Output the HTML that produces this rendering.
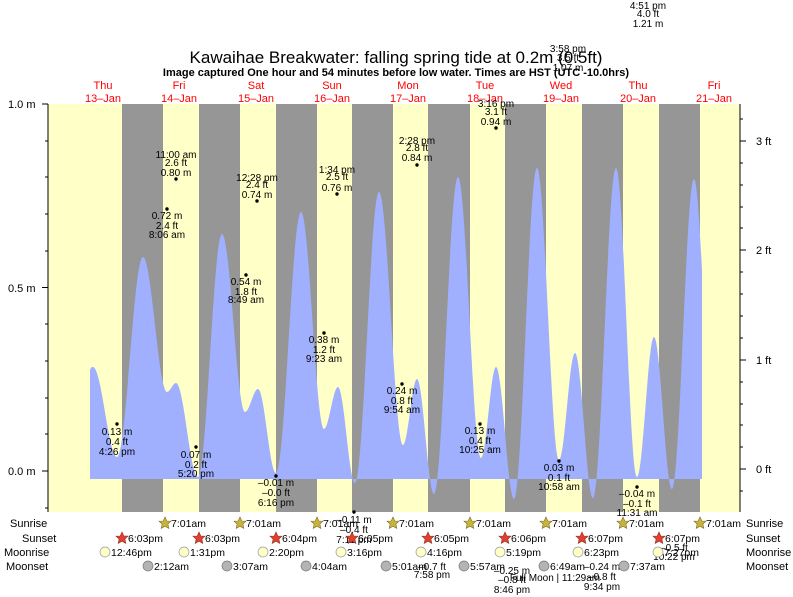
<!DOCTYPE html>
<html><head><meta charset="utf-8"><style>
body{margin:0;background:#fff;}
svg{display:block;font-family:"Liberation Sans",sans-serif;}
.l{font-size:10px;text-anchor:middle;fill:#000;}
.d{font-size:11px;fill:#f00;text-anchor:middle;}
.r{font-size:11px;fill:#000;}
</style></head><body>
<svg width="793" height="597" viewBox="0 0 793 597" xmlns="http://www.w3.org/2000/svg">
<rect width="793" height="597" fill="#fff"/>
<rect x="48" y="104" width="692" height="408" fill="#ffffc8"/>
<g fill="#969696">
<rect x="122" y="104" width="41" height="408"/>
<rect x="199" y="104" width="41" height="408"/>
<rect x="276" y="104" width="41" height="408"/>
<rect x="352" y="104" width="41" height="408"/>
<rect x="428" y="104" width="42" height="408"/>
<rect x="505" y="104" width="41" height="408"/>
<rect x="582" y="104" width="41" height="408"/>
<rect x="659" y="104" width="41" height="408"/>
</g>
<path fill="#a0b0ff" d="M90,479 L90,370 C91,367 92,367 93,367
C101.6,367 108.4,457 117,457
C126.4,457 133.6,257 143,257
C151.6,257 158.4,392 167,392
C170.2,392 172.8,383 176,383
C183.9,383 190.1,477 198,477
C206.6,477 213.4,234 222,234
C230.3,234 236.7,412 245,412
C249.7,412 253.3,389 258,389
C264.5,389 269.5,473 276,473
C285,473 292,212 301,212
C309.3,212 315.7,429 324,429
C329,429 333,387 338,387
C344.1,387 348.9,483 355,483
C363.6,483 370.4,192 379,192
C387.6,192 394.4,445 403,445
C408,445 412,379 417,379
C423.1,379 427.9,494 434,494
C442.6,494 449.4,177 458,177
C466.3,177 472.7,458 481,458
C486.4,458 490.6,367 496,367
C502.5,367 507.5,499 514,499
C522.3,499 528.7,168 537,168
C544.9,168 551.1,460 559,460
C564.8,460 569.2,353 575,353
C581.5,353 586.5,498 593,498
C601.3,498 607.7,168 616,168
C623.6,168 629.4,477 637,477
C643.1,477 647.9,337 654,337
C660.5,337 665.5,489 672,489
C679.9,489 686.1,179 694,179
C697,179 700,230 702,270 L702,479 Z"/>
<g stroke="#000" stroke-width="1">
<line x1="48" y1="104" x2="48" y2="512"/>
<line x1="740" y1="104" x2="740" y2="512"/>
<line x1="42" y1="104" x2="48" y2="104"/><line x1="42" y1="287.5" x2="48" y2="287.5"/><line x1="42" y1="471" x2="48" y2="471"/>
<line x1="45" y1="141" x2="48" y2="141"/><line x1="45" y1="177" x2="48" y2="177"/><line x1="45" y1="214" x2="48" y2="214"/><line x1="45" y1="251" x2="48" y2="251"/><line x1="45" y1="324" x2="48" y2="324"/><line x1="45" y1="361" x2="48" y2="361"/><line x1="45" y1="398" x2="48" y2="398"/><line x1="45" y1="434" x2="48" y2="434"/><line x1="45" y1="508" x2="48" y2="508"/>
<line x1="740" y1="141" x2="746" y2="141"/><line x1="740" y1="250" x2="746" y2="250"/><line x1="740" y1="360" x2="746" y2="360"/><line x1="740" y1="469" x2="746" y2="469"/>
<line x1="740" y1="119" x2="743" y2="119"/><line x1="740" y1="163" x2="743" y2="163"/><line x1="740" y1="185" x2="743" y2="185"/><line x1="740" y1="207" x2="743" y2="207"/><line x1="740" y1="228" x2="743" y2="228"/><line x1="740" y1="272" x2="743" y2="272"/><line x1="740" y1="294" x2="743" y2="294"/><line x1="740" y1="316" x2="743" y2="316"/><line x1="740" y1="338" x2="743" y2="338"/><line x1="740" y1="382" x2="743" y2="382"/><line x1="740" y1="404" x2="743" y2="404"/><line x1="740" y1="425" x2="743" y2="425"/><line x1="740" y1="447" x2="743" y2="447"/><line x1="740" y1="491" x2="743" y2="491"/>
</g>
<g class="r">
<text x="8" y="108">1.0 m</text><text x="8" y="292">0.5 m</text><text x="8" y="475">0.0 m</text>
<text x="756" y="145">3 ft</text><text x="756" y="254">2 ft</text><text x="756" y="364">1 ft</text><text x="756" y="473">0 ft</text>
</g>
<text x="396" y="63" font-size="17" text-anchor="middle">Kawaihae Breakwater: falling  spring tide at 0.2m (0.5ft)</text>
<text x="396" y="76" font-size="11" font-weight="bold" text-anchor="middle">Image captured One hour and 54 minutes before low water. Times are HST (UTC -10.0hrs)</text>
<g class="d">
<text x="103" y="89">Thu</text><text x="103" y="102">13–Jan</text>
<text x="179" y="89">Fri</text><text x="179" y="102">14–Jan</text>
<text x="256" y="89">Sat</text><text x="256" y="102">15–Jan</text>
<text x="332" y="89">Sun</text><text x="332" y="102">16–Jan</text>
<text x="408" y="89">Mon</text><text x="408" y="102">17–Jan</text>
<text x="485" y="89">Tue</text><text x="485" y="102">18–Jan</text>
<text x="561" y="89">Wed</text><text x="561" y="102">19–Jan</text>
<text x="638" y="89">Thu</text><text x="638" y="102">20–Jan</text>
<text x="714" y="89">Fri</text><text x="714" y="102">21–Jan</text>
</g>
<g fill="#000">
<circle cx="117" cy="424" r="1.7"/><circle cx="176" cy="179" r="1.7"/><circle cx="167" cy="209" r="1.7"/><circle cx="196" cy="447" r="1.7"/><circle cx="257" cy="201" r="1.7"/><circle cx="246" cy="275" r="1.7"/><circle cx="276" cy="476" r="1.7"/><circle cx="337" cy="194" r="1.7"/><circle cx="324" cy="333" r="1.7"/><circle cx="354" cy="512" r="1.7"/><circle cx="402" cy="384" r="1.7"/><circle cx="417" cy="165" r="1.7"/><circle cx="496" cy="128" r="1.7"/><circle cx="480" cy="424" r="1.7"/><circle cx="559" cy="461" r="1.7"/><circle cx="637" cy="487" r="1.7"/>
</g>
<g class="l">
<text x="117" y="435">0.13 m</text><text x="117" y="445">0.4 ft</text><text x="117" y="455">4:26 pm</text>
<text x="176" y="158">11:00 am</text><text x="176" y="166">2.6 ft</text><text x="176" y="176">0.80 m</text>
<text x="167" y="219">0.72 m</text><text x="167" y="229">2.4 ft</text><text x="167" y="238">8:06 am</text>
<text x="196" y="458">0.07 m</text><text x="196" y="468">0.2 ft</text><text x="196" y="477">5:20 pm</text>
<text x="257" y="181">12:28 pm</text><text x="257" y="188">2.4 ft</text><text x="257" y="198">0.74 m</text>
<text x="246" y="285">0.54 m</text><text x="246" y="295">1.8 ft</text><text x="246" y="303">8:49 am</text>
<text x="276" y="486">–0.01 m</text><text x="276" y="496">–0.0 ft</text><text x="276" y="506">6:16 pm</text>
<text x="337" y="173">1:34 pm</text><text x="337" y="180">2.5 ft</text><text x="337" y="191">0.76 m</text>
<text x="324" y="343">0.38 m</text><text x="324" y="353">1.2 ft</text><text x="324" y="362">9:23 am</text>
<text x="354" y="523">–0.11 m</text><text x="354" y="533">–0.4 ft</text><text x="354" y="543">7:11 pm</text>
<text x="402" y="394">0.24 m</text><text x="402" y="404">0.8 ft</text><text x="402" y="413">9:54 am</text>
<text x="417" y="144">2:28 pm</text><text x="417" y="151">2.8 ft</text><text x="417" y="161">0.84 m</text>
<text x="496" y="107">3:16 pm</text><text x="496" y="115">3.1 ft</text><text x="496" y="125">0.94 m</text>
<text x="480" y="434">0.13 m</text><text x="480" y="444">0.4 ft</text><text x="480" y="453">10:25 am</text>
<text x="559" y="471">0.03 m</text><text x="559" y="481">0.1 ft</text><text x="559" y="490">10:58 am</text>
<text x="637" y="497">–0.04 m</text><text x="637" y="507">–0.1 ft</text><text x="637" y="516">11:31 am</text>
<text x="648" y="9">4:51 pm</text><text x="648" y="17">4.0 ft</text><text x="648" y="27">1.21 m</text>
<text x="568" y="52">3:58 pm</text><text x="568" y="61">3.5 ft</text><text x="568" y="71">1.07 m</text>
<text x="432" y="570">–0.7 ft</text><text x="432" y="578">7:58 pm</text>
<text x="512" y="574">–0.25 m</text><text x="512" y="583">–0.8 ft</text><text x="512" y="593">8:46 pm</text>
<text x="555" y="581">Full Moon | 11:29am</text>
<text x="602" y="570">–0.24 m</text><text x="602" y="580">–0.8 ft</text><text x="602" y="590">9:34 pm</text>
<text x="674" y="551">–0.5 ft</text><text x="674" y="560">10:22 pm</text>
</g>
<g font-size="11" fill="#000">
<text x="10" y="527">Sunrise</text><text x="22" y="542">Sunset</text><text x="4" y="556">Moonrise</text><text x="6" y="570">Moonset</text>
<text x="746" y="527">Sunrise</text><text x="746" y="542">Sunset</text><text x="746" y="556">Moonrise</text><text x="746" y="570">Moonset</text>
</g>
<g font-size="10.5" fill="#000">
<g fill="#c8b43c" stroke="#7a6a20" stroke-width="0.6">
<polygon transform="translate(165,523)" points="0,-6 1.8,-2 6,-1.9 2.9,1 3.8,5.4 0,3.2 -3.8,5.4 -2.9,1 -6,-1.9 -1.8,-2"/>
<polygon transform="translate(240,523)" points="0,-6 1.8,-2 6,-1.9 2.9,1 3.8,5.4 0,3.2 -3.8,5.4 -2.9,1 -6,-1.9 -1.8,-2"/>
<polygon transform="translate(317,523)" points="0,-6 1.8,-2 6,-1.9 2.9,1 3.8,5.4 0,3.2 -3.8,5.4 -2.9,1 -6,-1.9 -1.8,-2"/>
<polygon transform="translate(393,523)" points="0,-6 1.8,-2 6,-1.9 2.9,1 3.8,5.4 0,3.2 -3.8,5.4 -2.9,1 -6,-1.9 -1.8,-2"/>
<polygon transform="translate(470,523)" points="0,-6 1.8,-2 6,-1.9 2.9,1 3.8,5.4 0,3.2 -3.8,5.4 -2.9,1 -6,-1.9 -1.8,-2"/>
<polygon transform="translate(546,523)" points="0,-6 1.8,-2 6,-1.9 2.9,1 3.8,5.4 0,3.2 -3.8,5.4 -2.9,1 -6,-1.9 -1.8,-2"/>
<polygon transform="translate(623,523)" points="0,-6 1.8,-2 6,-1.9 2.9,1 3.8,5.4 0,3.2 -3.8,5.4 -2.9,1 -6,-1.9 -1.8,-2"/>
<polygon transform="translate(700,523)" points="0,-6 1.8,-2 6,-1.9 2.9,1 3.8,5.4 0,3.2 -3.8,5.4 -2.9,1 -6,-1.9 -1.8,-2"/>
</g>
<text x="171" y="527">7:01am</text><text x="246" y="527">7:01am</text><text x="323" y="527">7:01am</text><text x="399" y="527">7:01am</text><text x="476" y="527">7:01am</text><text x="552" y="527">7:01am</text><text x="629" y="527">7:01am</text><text x="706" y="527">7:01am</text>
<g fill="#e04030" stroke="#903020" stroke-width="0.6">
<polygon transform="translate(122,538)" points="0,-6 1.8,-2 6,-1.9 2.9,1 3.8,5.4 0,3.2 -3.8,5.4 -2.9,1 -6,-1.9 -1.8,-2"/>
<polygon transform="translate(199,538)" points="0,-6 1.8,-2 6,-1.9 2.9,1 3.8,5.4 0,3.2 -3.8,5.4 -2.9,1 -6,-1.9 -1.8,-2"/>
<polygon transform="translate(276,538)" points="0,-6 1.8,-2 6,-1.9 2.9,1 3.8,5.4 0,3.2 -3.8,5.4 -2.9,1 -6,-1.9 -1.8,-2"/>
<polygon transform="translate(352,538)" points="0,-6 1.8,-2 6,-1.9 2.9,1 3.8,5.4 0,3.2 -3.8,5.4 -2.9,1 -6,-1.9 -1.8,-2"/>
<polygon transform="translate(428,538)" points="0,-6 1.8,-2 6,-1.9 2.9,1 3.8,5.4 0,3.2 -3.8,5.4 -2.9,1 -6,-1.9 -1.8,-2"/>
<polygon transform="translate(505,538)" points="0,-6 1.8,-2 6,-1.9 2.9,1 3.8,5.4 0,3.2 -3.8,5.4 -2.9,1 -6,-1.9 -1.8,-2"/>
<polygon transform="translate(582,538)" points="0,-6 1.8,-2 6,-1.9 2.9,1 3.8,5.4 0,3.2 -3.8,5.4 -2.9,1 -6,-1.9 -1.8,-2"/>
<polygon transform="translate(659,538)" points="0,-6 1.8,-2 6,-1.9 2.9,1 3.8,5.4 0,3.2 -3.8,5.4 -2.9,1 -6,-1.9 -1.8,-2"/>
</g>
<text x="128" y="542">6:03pm</text><text x="205" y="542">6:03pm</text><text x="282" y="542">6:04pm</text><text x="358" y="542">6:05pm</text><text x="434" y="542">6:05pm</text><text x="511" y="542">6:06pm</text><text x="588" y="542">6:07pm</text><text x="665" y="542">6:07pm</text>
<g fill="#ffffc8" stroke="#999" stroke-width="0.7">
<circle cx="105" cy="552" r="5"/><circle cx="184" cy="552" r="5"/><circle cx="263" cy="552" r="5"/><circle cx="341" cy="552" r="5"/><circle cx="421" cy="552" r="5"/><circle cx="500" cy="552" r="5"/><circle cx="578" cy="552" r="5"/><circle cx="658" cy="552" r="5"/>
</g>
<text x="111" y="556">12:46pm</text><text x="190" y="556">1:31pm</text><text x="269" y="556">2:20pm</text><text x="347" y="556">3:16pm</text><text x="427" y="556">4:16pm</text><text x="506" y="556">5:19pm</text><text x="584" y="556">6:23pm</text><text x="664" y="556">7:27pm</text>
<g fill="#b4b4b4" stroke="#777" stroke-width="0.7">
<circle cx="148" cy="566" r="5"/><circle cx="227" cy="566" r="5"/><circle cx="306" cy="566" r="5"/><circle cx="386" cy="566" r="5"/><circle cx="464" cy="566" r="5"/><circle cx="544" cy="566" r="5"/><circle cx="624" cy="566" r="5"/>
</g>
<text x="154" y="570">2:12am</text><text x="233" y="570">3:07am</text><text x="312" y="570">4:04am</text><text x="392" y="570">5:01am</text><text x="470" y="570">5:57am</text><text x="550" y="570">6:49am</text><text x="630" y="570">7:37am</text>
</g>
</svg>
</body></html>
